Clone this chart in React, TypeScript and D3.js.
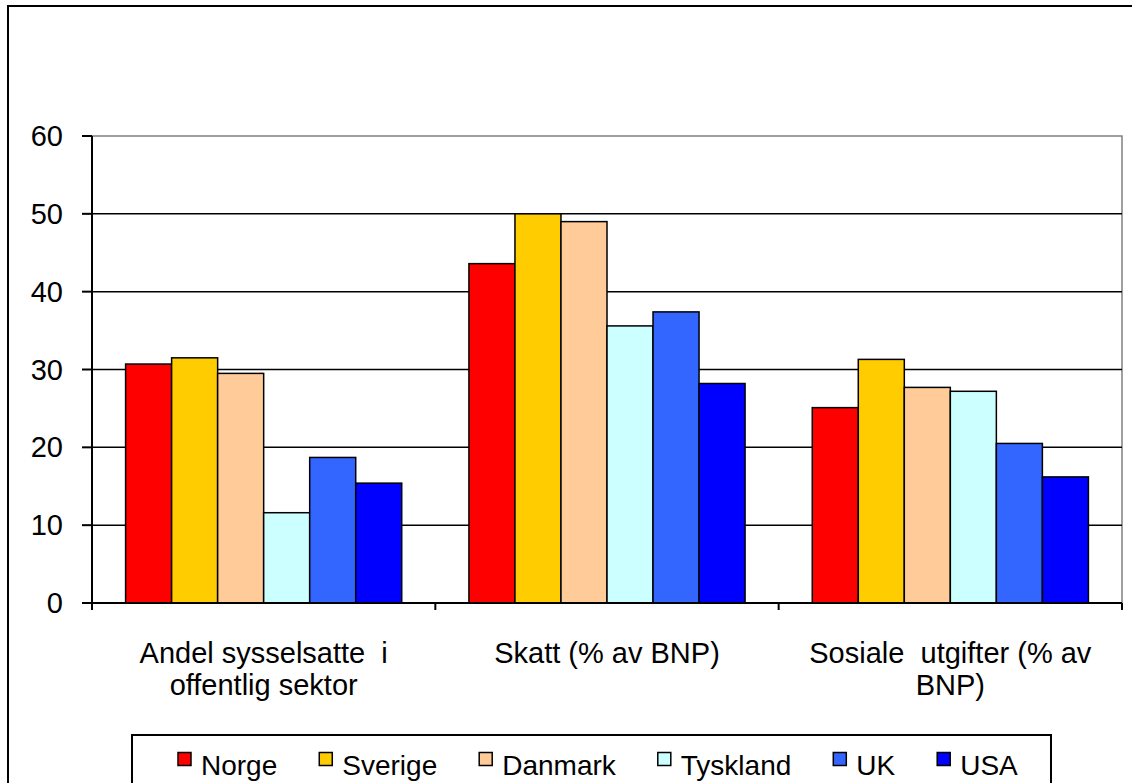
import React, { useEffect, useRef } from 'react';
import * as d3 from 'd3';

const categories = ['Andel sysselsatte  i|offentlig sektor', 'Skatt (% av BNP)', 'Sosiale  utgifter (% av|BNP)'];
const countries = ['Norge', 'Sverige', 'Danmark', 'Tyskland', 'UK', 'USA'];
const colors = ['#FF0000', '#FFCC00', '#FFCC99', '#CCFFFF', '#3366FF', '#0000FF'];

// values per country, one per category
const norge = [30.7, 43.6, 25.1];
const sverige = [31.5, 50.0, 31.3];
const danmark = [29.5, 49.0, 27.7];
const tyskland = [11.6, 35.6, 27.2];
const uk = [18.7, 37.4, 20.5];
const usa = [15.4, 28.2, 16.2];
const seriesValues = [norge, sverige, danmark, tyskland, uk, usa];

const yTicks = [0, 10, 20, 30, 40, 50, 60];

const W = 1132;
const H = 783;
const FONT = '"Liberation Sans", Arial, sans-serif';

const App: React.FC = () => {
  const svgRef = useRef<SVGSVGElement>(null);

  useEffect(() => {
    if (!svgRef.current) return;
    const svg = d3.select(svgRef.current);
    svg.selectAll('*').remove();

    const left = 92, right = 1122, top = 136, bottom = 603;

    // outer chart frame
    svg.append('rect')
      .attr('x', 8).attr('y', 6)
      .attr('width', W + 20).attr('height', H + 20)
      .attr('fill', 'white').attr('stroke', '#000').attr('stroke-width', 2);

    const x0 = d3.scaleBand<string>().domain(categories).range([left, right]).paddingInner(0).paddingOuter(0);
    const x1 = d3.scaleBand<string>().domain(countries).range([0, x0.bandwidth()]).paddingInner(0).paddingOuter(0.73);
    const y = d3.scaleLinear().domain([0, 60]).range([bottom, top]);

    // plot area border (grey)
    svg.append('rect')
      .attr('x', left).attr('y', top)
      .attr('width', right - left).attr('height', bottom - top)
      .attr('fill', 'none').attr('stroke', '#808080').attr('stroke-width', 1.5);

    // gridlines
    svg.append('g').selectAll('line')
      .data(yTicks.filter(t => t > 0 && t < 60))
      .enter().append('line')
      .attr('x1', left).attr('x2', right)
      .attr('y1', d => y(d)).attr('y2', d => y(d))
      .attr('stroke', '#000').attr('stroke-width', 1.5);

    // bars
    const groups = svg.append('g').selectAll('g')
      .data(categories)
      .enter().append('g')
      .attr('transform', c => `translate(${x0(c)},0)`);

    groups.selectAll('rect')
      .data((c, ci) => countries.map((name, si) => ({ name, si, v: seriesValues[si][ci] })))
      .enter().append('rect')
      .attr('x', d => x1(d.name) as number)
      .attr('y', d => y(d.v))
      .attr('width', x1.bandwidth())
      .attr('height', d => y(0) - y(d.v))
      .attr('fill', d => colors[d.si])
      .attr('stroke', '#000').attr('stroke-width', 1.5);

    // axes
    svg.append('line')
      .attr('x1', left).attr('x2', left).attr('y1', top).attr('y2', bottom + 7)
      .attr('stroke', '#000').attr('stroke-width', 2);
    svg.append('line')
      .attr('x1', left).attr('x2', right).attr('y1', bottom).attr('y2', bottom)
      .attr('stroke', '#000').attr('stroke-width', 2);

    // y ticks + labels
    const yt = svg.append('g');
    yt.selectAll('line').data(yTicks).enter().append('line')
      .attr('x1', left - 10).attr('x2', left)
      .attr('y1', d => y(d)).attr('y2', d => y(d))
      .attr('stroke', '#000').attr('stroke-width', 2);
    yt.selectAll('text').data(yTicks).enter().append('text')
      .attr('x', 63).attr('y', d => y(d) + 10)
      .attr('text-anchor', 'end')
      .style('font-family', FONT).style('font-size', '29px')
      .text(d => d);

    // x ticks at category boundaries
    const bounds = categories.map(c => x0(c) as number).concat([right]);
    svg.append('g').selectAll('line').data(bounds).enter().append('line')
      .attr('x1', d => d).attr('x2', d => d)
      .attr('y1', bottom).attr('y2', bottom + 7)
      .attr('stroke', '#000').attr('stroke-width', 2);

    // category labels
    const cl = svg.append('g').selectAll('text').data(categories).enter().append('text')
      .attr('text-anchor', 'middle')
      .style('font-family', FONT).style('font-size', '29px')
      .style('white-space', 'pre');
    cl.each(function (c) {
      const t = d3.select(this);
      const cx = (x0(c) as number) + x0.bandwidth() / 2;
      c.split('|').forEach((line, i) => {
        t.append('tspan').attr('x', cx).attr('y', 663 + i * 31.5).text(line);
      });
    });

    // legend
    svg.append('rect')
      .attr('x', 132).attr('y', 735)
      .attr('width', 1051 - 132).attr('height', 100)
      .attr('fill', 'white').attr('stroke', '#000').attr('stroke-width', 2);

    let lx = 178;
    countries.forEach((name, i) => {
      svg.append('rect')
        .attr('x', lx).attr('y', 752.5)
        .attr('width', 13).attr('height', 13)
        .attr('fill', colors[i]).attr('stroke', '#000').attr('stroke-width', 1.5);
      const txt = svg.append('text')
        .attr('x', lx + 23).attr('y', 774.5)
        .style('font-family', FONT).style('font-size', '28px')
        .text(name);
      const len = (txt.node() as SVGTextElement).getComputedTextLength();
      lx = lx + 23 + len + 42;
    });
  }, []);

  return (
    <div style={{ position: 'absolute', left: 0, top: 0, width: W, height: H, overflow: 'hidden' }}>
      <svg ref={svgRef} width={W} height={H} style={{ display: 'block' }} />
    </div>
  );
};

export default App;
